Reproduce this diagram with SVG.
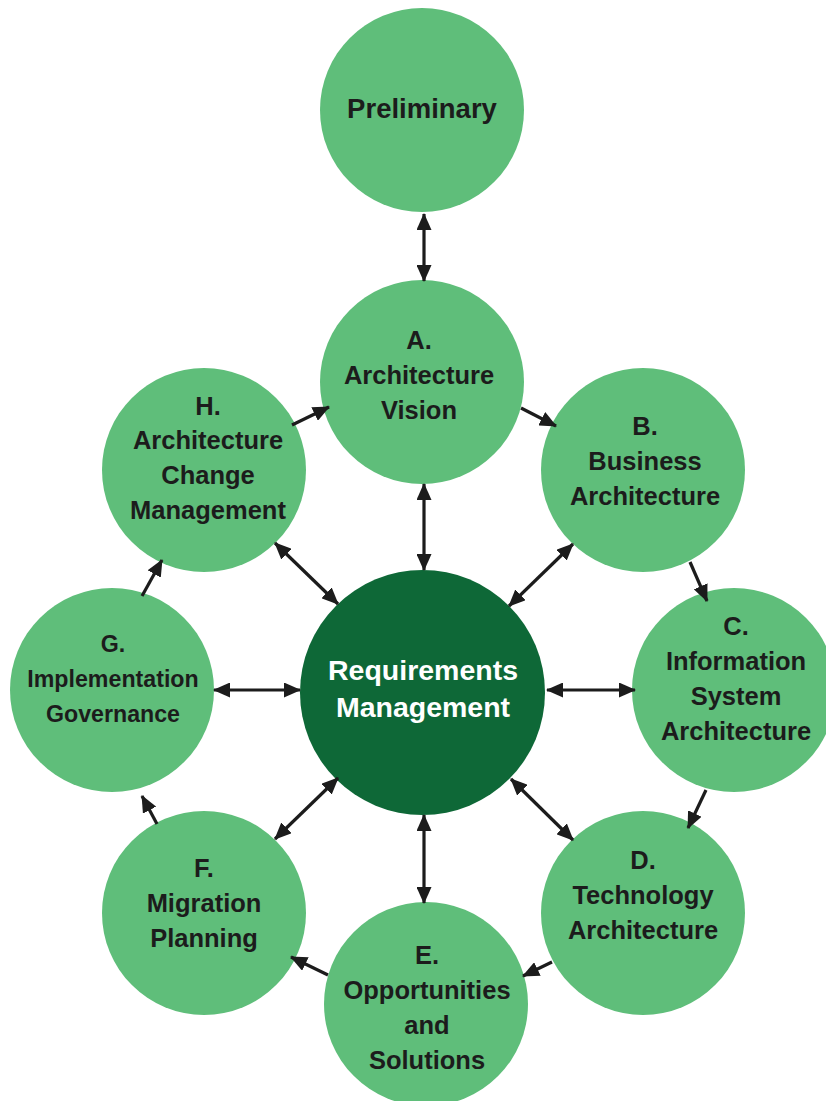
<svg xmlns="http://www.w3.org/2000/svg" width="826" height="1101" viewBox="0 0 826 1101">
<style>
.n{fill:#5fbe7a}
.c{fill:#0e6837}
text{font-family:"Liberation Sans",Arial,sans-serif;font-weight:bold;text-anchor:middle;fill:#1c1c1c;font-size:25.5px}
.w{fill:#ffffff;font-size:28.5px}
.g{font-size:23.2px}
.p{font-size:27.5px}
.a{stroke:#1c1c1c;stroke-width:3.2;fill:none;marker-end:url(#ah)}
.d{marker-start:url(#ah)}
</style>
<defs>
<marker id="ah" markerUnits="userSpaceOnUse" viewBox="0 0 17 15" refX="16" refY="7.5" markerWidth="17" markerHeight="15" orient="auto-start-reverse">
<path d="M0,0 L17,7.5 L0,15 Z" fill="#1c1c1c"/>
</marker>
</defs>
<rect width="826" height="1101" fill="#ffffff"/>
<g id="preliminary"><circle class="n" cx="422" cy="110" r="102"/><text class="p" x="422" y="118">Preliminary</text></g>
<g id="a"><circle class="n" cx="422" cy="382" r="102"/><text x="419" y="349">A.</text><text x="419" y="384">Architecture</text><text x="419" y="419">Vision</text></g>
<g id="b"><circle class="n" cx="643" cy="470" r="102"/><text x="645" y="435">B.</text><text x="645" y="470">Business</text><text x="645" y="505">Architecture</text></g>
<g id="c"><circle class="n" cx="734" cy="690" r="102"/><text x="736" y="635">C.</text><text x="736" y="670">Information</text><text x="736" y="705">System</text><text x="736" y="740">Architecture</text></g>
<g id="d"><circle class="n" cx="643" cy="913" r="102"/><text x="643" y="869">D.</text><text x="643" y="904">Technology</text><text x="643" y="939">Architecture</text></g>
<g id="e"><circle class="n" cx="426" cy="1004" r="102"/><text x="427" y="964">E.</text><text x="427" y="999">Opportunities</text><text x="427" y="1034">and</text><text x="427" y="1069">Solutions</text></g>
<g id="f"><circle class="n" cx="204" cy="913" r="102"/><text x="204" y="877">F.</text><text x="204" y="912">Migration</text><text x="204" y="947">Planning</text></g>
<g id="g"><circle class="n" cx="112" cy="690" r="102"/><text class="g" x="113" y="652">G.</text><text class="g" x="113" y="687">Implementation</text><text class="g" x="113" y="722">Governance</text></g>
<g id="h"><circle class="n" cx="204" cy="470" r="102"/><text x="208" y="415">H.</text><text x="208" y="449">Architecture</text><text x="208" y="484">Change</text><text x="208" y="519">Management</text></g>
<g id="center"><circle class="c" cx="422.5" cy="692.5" r="122.5"/><text class="w" x="423" y="680">Requirements</text><text class="w" x="423" y="717">Management</text></g>
<g id="connectors">
<line class="a d" x1="424" y1="214" x2="424" y2="281"/>
<line class="a" x1="292" y1="425" x2="329" y2="407"/>
<line class="a" x1="521" y1="408" x2="556" y2="426"/>
<line class="a" x1="690" y1="562" x2="707" y2="601"/>
<line class="a" x1="706" y1="790" x2="688" y2="828"/>
<line class="a" x1="552" y1="962" x2="523" y2="976"/>
<line class="a" x1="328" y1="975" x2="291" y2="957"/>
<line class="a" x1="157" y1="824" x2="142" y2="796"/>
<line class="a" x1="142" y1="596" x2="162" y2="560"/>
<line class="a d" x1="424" y1="484" x2="424" y2="570"/>
<line class="a d" x1="573" y1="544" x2="509" y2="606"/>
<line class="a d" x1="635" y1="690" x2="547" y2="690"/>
<line class="a d" x1="573" y1="840" x2="511" y2="779"/>
<line class="a d" x1="424" y1="815" x2="424" y2="903"/>
<line class="a d" x1="275" y1="839" x2="338" y2="778"/>
<line class="a d" x1="214" y1="690" x2="300" y2="690"/>
<line class="a d" x1="275" y1="543" x2="338" y2="604"/>
</g>
</svg>
